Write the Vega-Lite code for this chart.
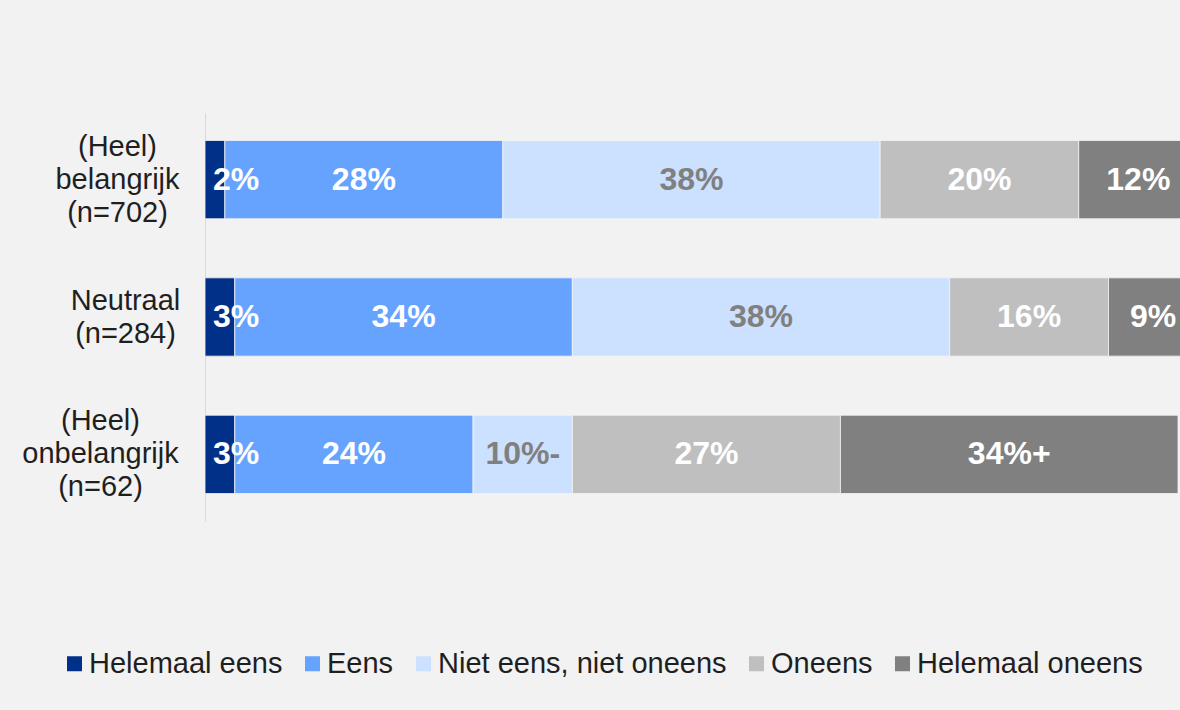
{
  "$schema": "https://vega.github.io/schema/vega-lite/v6.json",
  "width": 975,
  "height": 408,
  "autosize": {"type": "none"},
  "padding": {"left": 205, "top": 113, "right": 0, "bottom": 189},
  "background": "#f2f2f2",
  "config": {"view": {"stroke": null}, "font": "Liberation Sans"},
  "data": {
    "values": [
      {"group": "(Heel) belangrijk (n=702)", "cat": "Helemaal eens", "order": 1, "value": 2, "label": "2%"},
      {"group": "(Heel) belangrijk (n=702)", "cat": "Eens", "order": 2, "value": 28, "label": "28%"},
      {"group": "(Heel) belangrijk (n=702)", "cat": "Niet eens, niet oneens", "order": 3, "value": 38, "label": "38%"},
      {"group": "(Heel) belangrijk (n=702)", "cat": "Oneens", "order": 4, "value": 20, "label": "20%"},
      {"group": "(Heel) belangrijk (n=702)", "cat": "Helemaal oneens", "order": 5, "value": 12, "label": "12%"},
      {"group": "Neutraal (n=284)", "cat": "Helemaal eens", "order": 1, "value": 3, "label": "3%"},
      {"group": "Neutraal (n=284)", "cat": "Eens", "order": 2, "value": 34, "label": "34%"},
      {"group": "Neutraal (n=284)", "cat": "Niet eens, niet oneens", "order": 3, "value": 38, "label": "38%"},
      {"group": "Neutraal (n=284)", "cat": "Oneens", "order": 4, "value": 16, "label": "16%"},
      {"group": "Neutraal (n=284)", "cat": "Helemaal oneens", "order": 5, "value": 9, "label": "9%"},
      {"group": "(Heel) onbelangrijk (n=62)", "cat": "Helemaal eens", "order": 1, "value": 3, "label": "3%"},
      {"group": "(Heel) onbelangrijk (n=62)", "cat": "Eens", "order": 2, "value": 24, "label": "24%"},
      {"group": "(Heel) onbelangrijk (n=62)", "cat": "Niet eens, niet oneens", "order": 3, "value": 10, "label": "10%-"},
      {"group": "(Heel) onbelangrijk (n=62)", "cat": "Oneens", "order": 4, "value": 27, "label": "27%"},
      {"group": "(Heel) onbelangrijk (n=62)", "cat": "Helemaal oneens", "order": 5, "value": 34, "label": "34%+"}
    ]
  },
  "encoding": {
    "y": {
      "field": "group",
      "type": "nominal",
      "sort": ["(Heel) belangrijk (n=702)", "Neutraal (n=284)", "(Heel) onbelangrijk (n=62)"],
      "scale": {"paddingInner": 0.43, "paddingOuter": 0.2},
      "axis": {
        "title": null,
        "domainColor": "#d9d9d9",
        "domainWidth": 1,
        "ticks": false,
        "tickSize": 0,
        "labelAlign": "center",
        "labelBaseline": "middle",
        "labelPadding": {
          "condition": [
            {"test": "datum.value == 'Neutraal (n=284)'", "value": 80},
            {"test": "datum.value == '(Heel) onbelangrijk (n=62)'", "value": 105}
          ],
          "value": 88
        },
        "labelFontSize": 29,
        "labelColor": "#1f1f1f",
        "labelLineHeight": 33,
        "labelLimit": 0,
        "labelOffset": {"condition": {"test": "datum.value == 'Neutraal (n=284)'", "value": -16.5}, "value": -33},
        "labelExpr": "split(datum.label, ' ')"
      }
    }
  },
  "layer": [
    {
      "mark": {"type": "bar", "clip": true, "stroke": "#f5f5f5", "strokeWidth": 0.8},
      "encoding": {
        "x": {"field": "value", "type": "quantitative", "stack": "zero", "scale": {"domain": [0, 98.2], "nice": false, "zero": true}, "axis": null},
        "color": {
          "field": "cat",
          "type": "nominal",
          "scale": {
            "domain": ["Helemaal eens", "Eens", "Niet eens, niet oneens", "Oneens", "Helemaal oneens"],
            "range": ["#003087", "#66a3ff", "#cce0ff", "#bfbfbf", "#808080"]
          },
          "legend": {
            "orient": "none",
            "legendX": -145,
            "legendY": 536,
            "direction": "horizontal",
            "columns": 5,
            "title": null,
            "symbolType": "square",
            "symbolSize": 225,
            "symbolStrokeWidth": 0,
            "labelFontSize": 29,
            "labelColor": "#1f1f1f",
            "labelOffset": 0,
            "columnPadding": 15,
            "padding": 0,
            "labelLimit": 0
          }
        },
        "order": {"field": "order"}
      }
    },
    {
      "mark": {"type": "text", "fontSize": 32, "fontWeight": "bold", "baseline": "middle", "align": "center"},
      "encoding": {
        "x": {"field": "value", "type": "quantitative", "stack": "zero", "bandPosition": 0.5},
        "detail": {"field": "cat"},
        "order": {"field": "order"},
        "text": {"field": "label"},
        "opacity": {"condition": {"test": "datum.cat == 'Helemaal eens'", "value": 0}, "value": 1},
        "color": {"condition": {"test": "datum.cat == 'Niet eens, niet oneens'", "value": "#808080"}, "value": "white"}
      }
    },
    {
      "transform": [{"filter": "datum.cat == 'Helemaal eens'"}],
      "mark": {"type": "text", "fontSize": 32, "fontWeight": "bold", "baseline": "middle", "align": "left", "dx": 8, "color": "white"},
      "encoding": {
        "x": {"datum": 0, "type": "quantitative"},
        "text": {"field": "label"}
      }
    }
  ]
}
